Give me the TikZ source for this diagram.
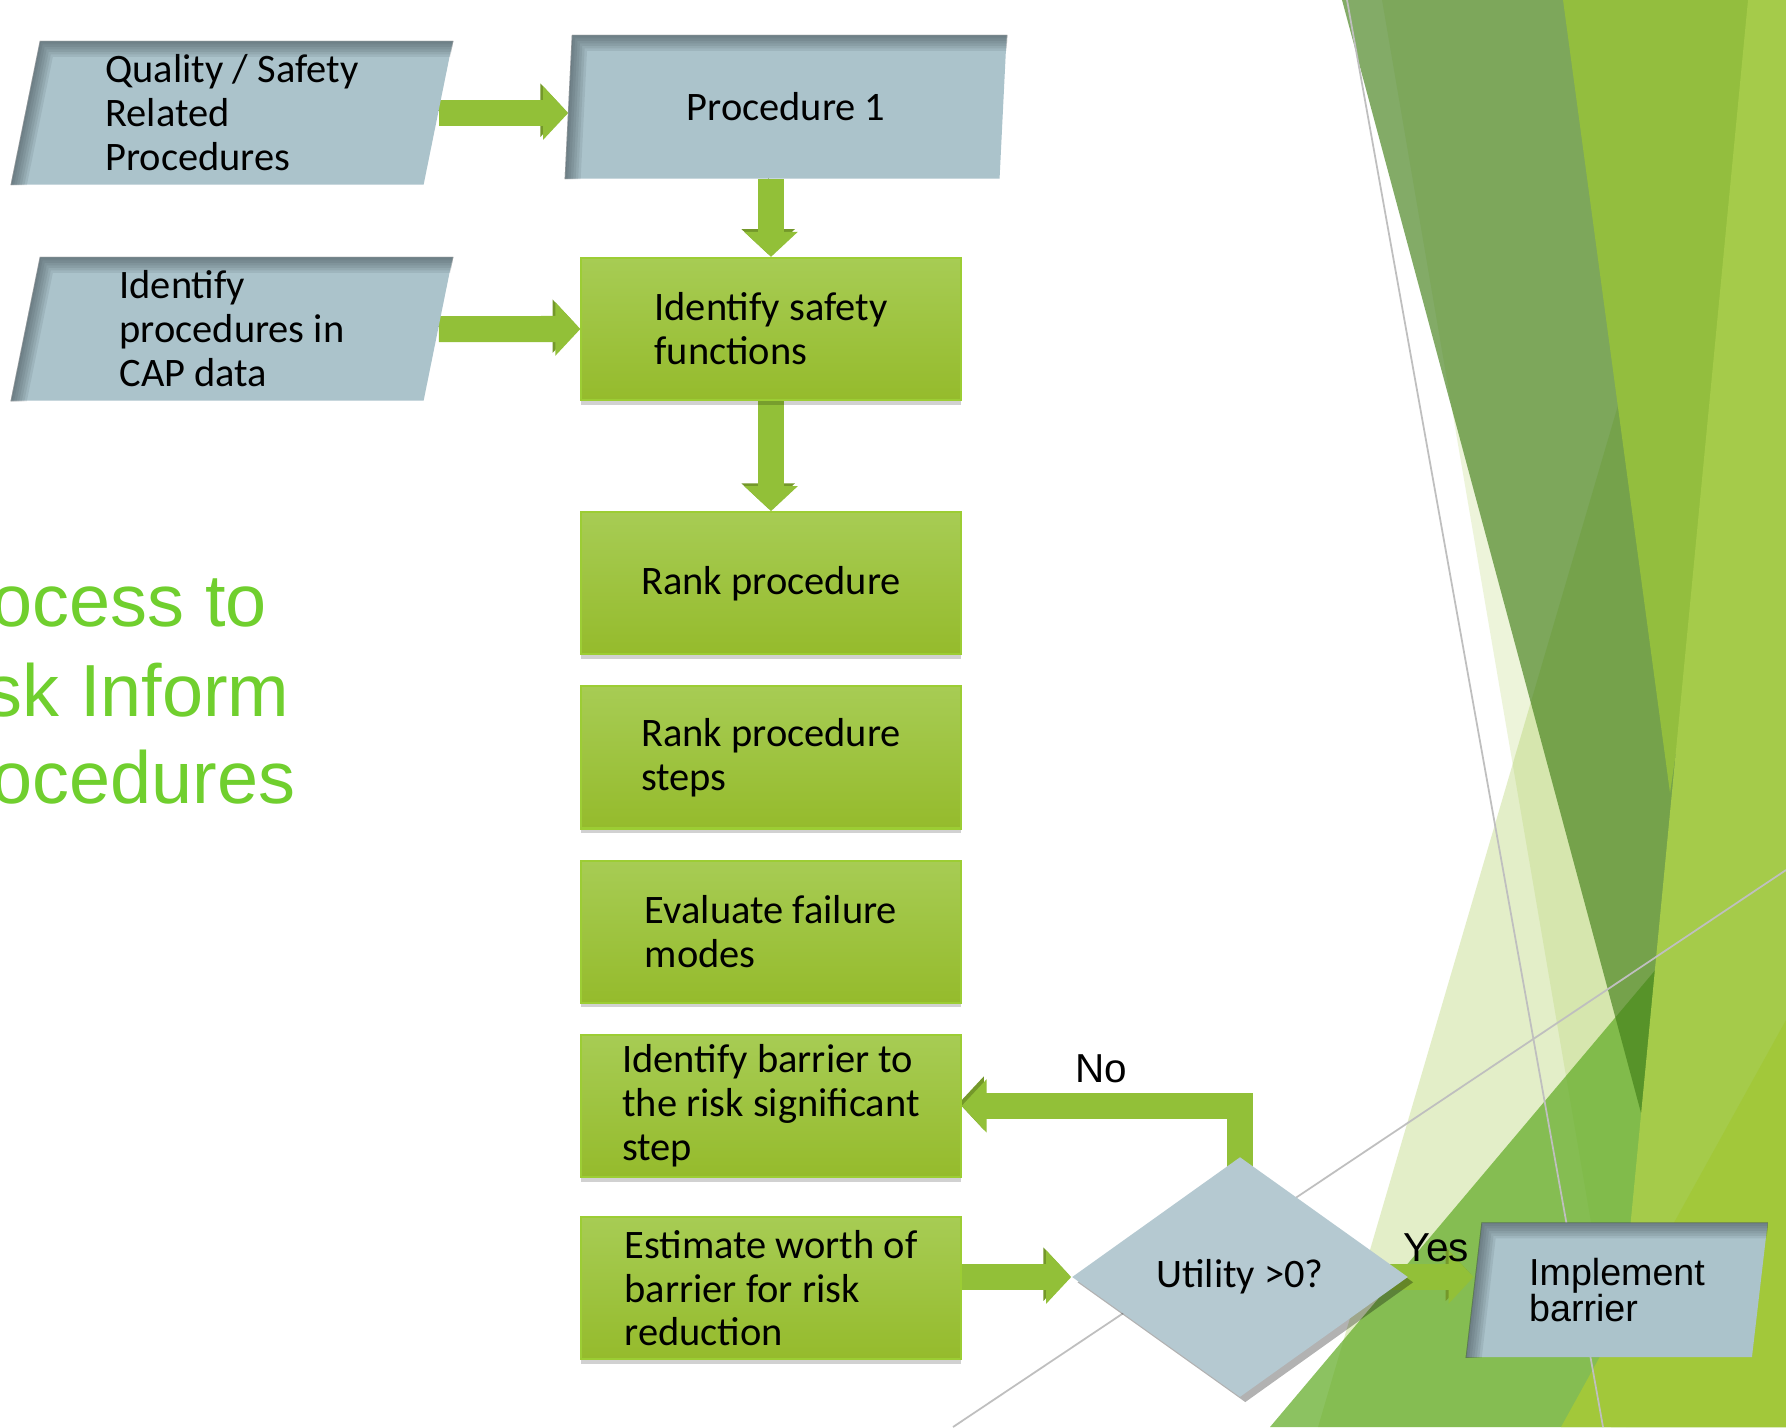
\documentclass[tikz,border=0pt]{standalone}
\usepackage{fontspec}
\setmainfont{Carlito}
\newfontfamily\arialfont{Liberation Sans}
\usetikzlibrary{positioning,shapes.geometric,arrows.meta,shadows}

\definecolor{paraBlue}{RGB}{171,195,203}
\definecolor{paraEdge}{RGB}{60,72,78}
\definecolor{diaBlue}{RGB}{181,201,209}
\definecolor{boxTop}{RGB}{167,204,84}
\definecolor{boxBot}{RGB}{149,187,44}
\definecolor{boxEdge}{RGB}{156,205,52}
\definecolor{flowGreen}{RGB}{146,192,56}
\definecolor{flowDark}{RGB}{116,152,42}
\definecolor{titleGreen}{RGB}{112,207,46}
\definecolor{paleLeaf}{RGB}{165,201,74}
\definecolor{darkLeaf}{RGB}{65,126,23}
\definecolor{midLeaf}{RGB}{147,190,62}
\definecolor{lightLeaf}{RGB}{165,203,74}
\definecolor{limeLeaf}{RGB}{162,200,58}
\definecolor{grassLeaf}{RGB}{97,171,37}

\pgfdeclarelayer{leaves}
\pgfdeclarelayer{links}
\pgfsetlayers{leaves,links,main}

\tikzset{
  txt/.style={font=\fontsize{11.5}{12.5}\selectfont, text=black, align=left},
  greenbox/.style={txt, rectangle, minimum width=3.79cm, minimum height=1.42cm,
    inner sep=2pt, top color=boxTop, bottom color=boxBot, draw=boxEdge, line width=0.6pt,
    drop shadow={shadow xshift=0pt, shadow yshift=-1.3pt, opacity=0.18, fill=black}},
  databox/.style={txt, trapezium, trapezium left angle=76, trapezium right angle=104,
    trapezium stretches body, minimum width=4.41cm, minimum height=1.43cm,
    inner sep=0pt, fill=paraBlue},
  decision/.style={txt, diamond, minimum width=3.36cm, minimum height=2.4cm,
    inner sep=0pt, fill=diaBlue,
    drop shadow={shadow xshift=1.5pt, shadow yshift=-1.5pt, opacity=0.3, fill=black}},
  flow/.style={line width=0.26cm, flowGreen, -{Triangle[width=0.52cm,length=0.25cm]},
    preaction={draw=flowDark, transform canvas={shift={(-0.8pt,0.8pt)}}}},
  lbl/.style={font=\arialfont\fontsize{11.5}{12}\selectfont, text=black,
    inner sep=0pt, outer sep=0pt},
  title/.style={font=\arialfont\fontsize{21}{25}\selectfont, text=titleGreen,
    inner sep=0pt, anchor=base west},
  crease/.style={black!25, line width=0.5pt},
}

\begin{document}
\begin{tikzpicture}[x=0.01cm, y=-0.01cm]
  \useasboundingbox (0,0) rectangle (1786,1427);

  % background facets
  \begin{pgfonlayer}{leaves}
    \fill[white] (0,0) rectangle (1786,1427);
    \fill[paleLeaf, opacity=0.3] (1737,0) -- (1786,0) -- (1786,1427) -- (1318,1427) -- cycle;
    \fill[paleLeaf, opacity=0.2] (1382,0) -- (1786,0) -- (1786,1427) -- (1626,1427) -- cycle;
    \fill[grassLeaf, opacity=0.72] (1270,1427) -- (1786,815) -- (1786,1427) -- cycle;
    \fill[darkLeaf, opacity=0.65] (1342,0) -- (1786,0) -- (1786,400) -- (1655,1165) -- cycle;
    \fill[midLeaf] (1563,0) -- (1786,0) -- (1670,793) -- cycle;
    \fill[lightLeaf] (1748,0) -- (1786,0) -- (1786,1427) -- (1611,1427) -- cycle;
    \fill[limeLeaf] (1561,1427) -- (1786,1020) -- (1786,1427) -- cycle;
    \draw[crease] (1347,0) -- (1603,1427);
    \draw[crease] (953,1427) -- (1786,870);
  \end{pgfonlayer}

  \node[title] (tline1) at (-9,626) {ocess to};
  \node[title] (tline2) at (-15,716) {sk Inform};
  \node[title] (tline3) at (-9,803) {ocedures};

  \node[databox] (qsp) at (232,113) {Quality / Safety\\Related\\Procedures};
  \node[databox] (proc1) at (786,107) {Procedure 1};
  \node[databox] (idc) at (232,329) {Identify\\procedures in\\CAP data};

  \node[greenbox] (idsf) at (771,329) {Identify safety\\functions};
  \node[greenbox, below=1.1cm of idsf] (rank) {Rank procedure};
  \node[greenbox, below=0.3cm of rank] (steps) {Rank procedure\\steps};
  \node[greenbox, below=0.3cm of steps] (fail) {Evaluate failure\\modes};
  \node[greenbox, below=0.3cm of fail] (barrier) {Identify barrier to\\the risk significant\\step};
  \node[greenbox, below=0.38cm of barrier] (worth) {Estimate worth of\\barrier for risk\\reduction};

  \node[decision] (util) at (1240,1277) {Utility >0?};
  \node[databox, minimum width=3.01cm, minimum height=1.34cm,
        font=\arialfont\fontsize{10.7}{10}\selectfont] (impl) at (1617,1290) {Implement\\barrier};

  % inner shadow along top and left edge of the data boxes
  \foreach \n in {qsp,proc1,idc,impl} {
    \begin{scope}
      \clip (\n.bottom left corner) -- (\n.top left corner) -- (\n.top right corner)
        -- (\n.bottom right corner) -- cycle;
      \foreach \w in {0.32,0.27,0.22,0.17,0.12,0.07,0.03}
        \draw[paraEdge, line width=\w cm, opacity=0.11]
          (\n.bottom left corner) -- (\n.top left corner) -- (\n.top right corner);
    \end{scope}
  }

  \begin{pgfonlayer}{links}
    \draw[flow] (qsp.east) -- (qsp.east -| proc1.west);
    \draw[flow] (idc.east) -- (idsf.west);
    \draw[flow] (idsf.north |- proc1.south) -- (idsf.north);
    \draw[flow] (idsf) -- (rank);
    \draw[flow] (worth.east |- util.west) -- (util.west);
    \draw[flow] (util.center) |- node[lbl, pos=0.75, above=0.23cm] (nolbl) {No} (barrier.east);
    \draw[flow] (util.center) -- node[lbl, pos=0.84, above=0.15cm] (yeslbl) {Yes} (util.center -| impl.west);
  \end{pgfonlayer}
\end{tikzpicture}
\end{document}
